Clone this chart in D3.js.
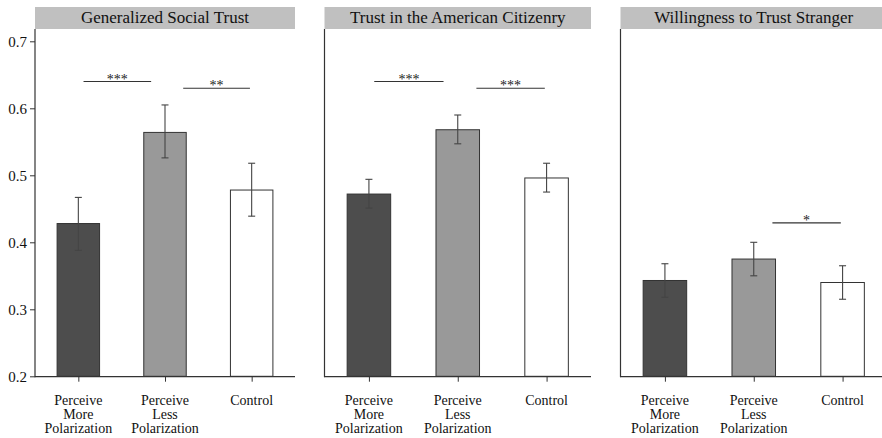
<!DOCTYPE html>
<html>
<head>
<meta charset="utf-8">
<script src="https://cdn.jsdelivr.net/npm/d3@7"></script>
<style>
  html, body { margin: 0; padding: 0; background: #fff; }
  svg { display: block; }
  svg text { font-family: "Liberation Serif", "DejaVu Serif", serif !important; }
</style>
</head>
<body>
<svg id="chart" width="882" height="438"></svg>
<script>
// Panel titles and treatment conditions
const panelTitles = ["Generalized Social Trust", "Trust in the American Citizenry", "Willingness to Trust Stranger"];
const categories = ["Perceive More Polarization", "Perceive Less Polarization", "Control"];
const categoryLines = [["Perceive", "More", "Polarization"], ["Perceive", "Less", "Polarization"], ["Control"]];

// Means and 95% interval bounds per condition
const socialTrustMean = [0.428, 0.564, 0.478];
const socialTrustLow  = [0.388, 0.526, 0.439];
const socialTrustHigh = [0.467, 0.605, 0.518];

const citizenryMean = [0.472, 0.568, 0.496];
const citizenryLow  = [0.451, 0.547, 0.475];
const citizenryHigh = [0.494, 0.590, 0.518];

const strangerMean = [0.343, 0.375, 0.340];
const strangerLow  = [0.318, 0.350, 0.315];
const strangerHigh = [0.368, 0.400, 0.365];

// Significance brackets (positions in condition units, 1..3)
const sigPanel = [0, 0, 1, 1, 2];
const sigFrom  = [1.06, 2.21, 1.06, 2.21, 2.21];
const sigTo    = [1.84, 2.98, 1.84, 2.98, 2.98];
const sigLevel = [0.640, 0.630, 0.640, 0.630, 0.429];
const sigLabel = ["***", "**", "***", "***", "*"];

const yTicks = [0.2, 0.3, 0.4, 0.5, 0.6, 0.7];

const means = [socialTrustMean, citizenryMean, strangerMean];
const lows  = [socialTrustLow, citizenryLow, strangerLow];
const highs = [socialTrustHigh, citizenryHigh, strangerHigh];

// Layout
const panelLeft  = [35, 324.5, 620.5];
const panelWidth = [260, 266.5, 266.5];
const stripTop = 7, stripBottom = 29;
const barFill = ["#4d4d4d", "#999999", "#ffffff"];
const ink = "#333333";

const svg = d3.select("#chart");

const y = d3.scaleLinear().domain([0.2, 0.7]).range([376.3, 41.3]);

panelTitles.forEach((title, p) => {
  const g = svg.append("g").attr("transform", `translate(${panelLeft[p]},0)`);
  const w = panelWidth[p];

  const x = d3.scalePoint().domain(categories).range([0, w]).padding(0.5);
  const step = x.step();
  const bw = step * 0.49;
  // condition index (1..3) to x position
  const xi = d3.scaleLinear().domain([1, 3]).range([x(categories[0]), x(categories[2])]);

  // strip with title
  g.append("rect")
    .attr("x", 0).attr("y", stripTop)
    .attr("width", w).attr("height", stripBottom - stripTop)
    .attr("fill", "#c0c0c0");
  g.append("text")
    .attr("x", w / 2).attr("y", 23)
    .attr("text-anchor", "middle")
    .attr("font-size", 17)
    .attr("fill", "#111")
    .text(title);

  // bars
  g.selectAll("rect.bar")
    .data(categories)
    .join("rect")
    .attr("class", "bar")
    .attr("x", d => x(d) - bw / 2)
    .attr("y", (d, i) => y(means[p][i]))
    .attr("width", bw)
    .attr("height", (d, i) => y(0.2) - y(means[p][i]))
    .attr("fill", (d, i) => barFill[i])
    .attr("stroke", ink)
    .attr("stroke-width", 1);

  // error bars
  const eb = g.selectAll("g.err").data(categories).join("g").attr("class", "err")
    .attr("stroke", "#444").attr("stroke-width", 1.1);
  eb.append("line")
    .attr("x1", d => x(d)).attr("x2", d => x(d))
    .attr("y1", (d, i) => y(lows[p][i])).attr("y2", (d, i) => y(highs[p][i]));
  eb.append("line")
    .attr("x1", d => x(d) - 3.5).attr("x2", d => x(d) + 3.5)
    .attr("y1", (d, i) => y(lows[p][i])).attr("y2", (d, i) => y(lows[p][i]));
  eb.append("line")
    .attr("x1", d => x(d) - 3.5).attr("x2", d => x(d) + 3.5)
    .attr("y1", (d, i) => y(highs[p][i])).attr("y2", (d, i) => y(highs[p][i]));

  // x axis
  const xAxis = g.append("g")
    .attr("transform", `translate(0,${y(0.2) + 0.4})`)
    .call(d3.axisBottom(x).tickSize(5).tickFormat(""));
  xAxis.select(".domain").attr("d", `M0,0H${w}`).attr("stroke", ink).attr("stroke-width", 1.2);
  xAxis.selectAll(".tick line").attr("stroke", ink);

  // category labels
  categories.forEach((c, i) => {
    const t = g.append("text")
      .attr("text-anchor", "middle")
      .attr("font-size", 14)
      .attr("fill", "#111");
    categoryLines[i].forEach((line, k) => {
      t.append("tspan").attr("x", x(c)).attr("y", 405 + k * 14).text(line);
    });
  });

  // y axis line
  g.append("line")
    .attr("x1", 0).attr("x2", 0)
    .attr("y1", stripBottom).attr("y2", y(0.2) + 1)
    .attr("stroke", ink).attr("stroke-width", 1.2);

  if (p === 0) {
    const yAxis = g.append("g")
      .call(d3.axisLeft(y).tickValues(yTicks).tickSize(5).tickPadding(3).tickFormat(d3.format(".1f")));
    yAxis.select(".domain").remove();
    yAxis.selectAll(".tick line").attr("stroke", ink);
    yAxis.selectAll(".tick text")
      .attr("font-size", 15)
      .attr("fill", "#111");
  }

  // significance brackets
  sigPanel.forEach((sp, k) => {
    if (sp !== p) return;
    const x1 = xi(sigFrom[k]), x2 = xi(sigTo[k]), yy = y(sigLevel[k]);
    g.append("line")
      .attr("x1", x1).attr("x2", x2)
      .attr("y1", yy).attr("y2", yy)
      .attr("stroke", "#333").attr("stroke-width", 1.1);
    g.append("text")
      .attr("x", (x1 + x2) / 2).attr("y", yy + 2)
      .attr("text-anchor", "middle")
      .attr("font-size", 14)
      .attr("fill", "#222")
      .text(sigLabel[k]);
  });
});
</script>
</body>
</html>
